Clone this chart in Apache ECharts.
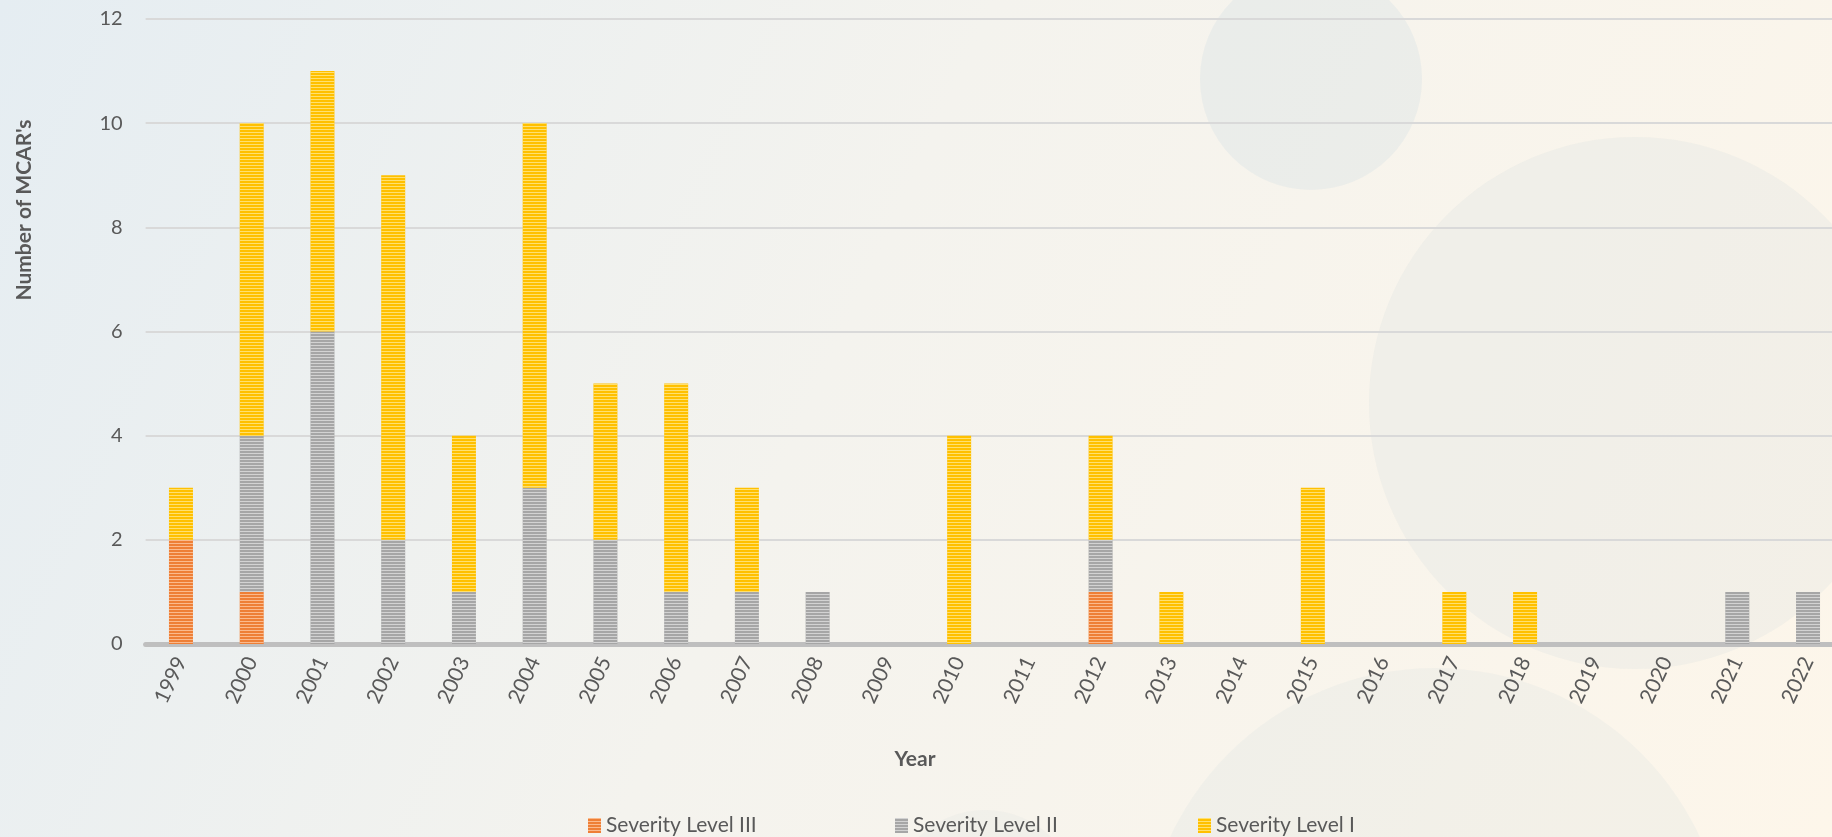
<!DOCTYPE html>
<html>
<head>
<meta charset="utf-8">
<script src="https://cdn.jsdelivr.net/npm/echarts@6/dist/echarts.min.js"></script>
<style>
html,body{margin:0;padding:0;width:1832px;height:837px;overflow:hidden;}
#chart{width:1832px;height:837px;}
</style>
</head>
<body>
<div id="chart"></div>
<script>
const years = ['1999','2000','2001','2002','2003','2004','2005','2006','2007','2008','2009','2010','2011','2012','2013','2014','2015','2016','2017','2018','2019','2020','2021','2022'];
const severityIII = [2,1,0,0,0,0,0,0,0,0,0,0,0,1,0,0,0,0,0,0,0,0,0,0];
const severityII  = [0,3,6,2,1,3,2,1,1,1,0,0,0,1,0,0,0,0,0,0,0,0,1,1];
const severityI   = [1,6,5,7,3,7,3,4,2,0,0,4,0,2,1,0,3,0,1,1,0,0,0,0];
const seriesNames = ['Severity Level III','Severity Level II','Severity Level I'];
const yTicks = {min:0, max:12, interval:2};

const FONT = 'Lato, "Open Sans", sans-serif';
const TXT = '#595959';

function stripe(light){
  return {symbol:'rect', symbolSize:1, dashArrayX:[1,0], dashArrayY:[1,2], color:light, rotation:0};
}

const chart = echarts.init(document.getElementById('chart'), null, {renderer:'canvas'});
const legendText = {fontFamily:FONT, fontSize:21, color:TXT};
const option = {
  animation:false,
  graphic:[
    {type:'rect', z:-100, silent:true, shape:{x:0,y:0,width:1832,height:837},
     style:{fill:new echarts.graphic.LinearGradient(0,0,1,1,[
       {offset:0,color:'#E5EDF2'},{offset:0.45,color:'#F4F3EE'},{offset:1,color:'#FDF6EA'}])}},
    {type:'circle', z:-99, silent:true, shape:{cx:1311,cy:79,r:111}, style:{fill:'rgba(205,220,228,0.28)'}},
    {type:'circle', z:-99, silent:true, shape:{cx:1635,cy:403,r:266}, style:{fill:'rgba(215,222,222,0.25)'}},
    {type:'circle', z:-99, silent:true, shape:{cx:1435,cy:960,r:292}, style:{fill:'rgba(215,222,222,0.22)'}},
    {type:'circle', z:-99, silent:true, shape:{cx:985,cy:905,r:95}, style:{fill:'rgba(215,222,222,0.18)'}},
    {type:'text', z:10, x:24, y:210, rotation:Math.PI/2,
     style:{text:"Number of MCAR's", font:'bold 21px '+FONT, fill:TXT, align:'center', verticalAlign:'middle'}},
    {type:'text', z:10, x:915, y:759,
     style:{text:'Year', font:'bold 21px '+FONT, fill:TXT, align:'center', verticalAlign:'middle'}}
  ],
  legend:[
    {data:[seriesNames[0]], left:583, top:810, icon:'rect', itemWidth:13, itemHeight:15, textStyle:legendText},
    {data:[seriesNames[1]], left:890, top:810, icon:'rect', itemWidth:13, itemHeight:15, textStyle:legendText},
    {data:[seriesNames[2]], left:1193, top:810, icon:'rect', itemWidth:13, itemHeight:15, textStyle:legendText}
  ],
  grid:{left:145.6, width:1697.8, top:19, bottom:193, containLabel:false, outerBoundsMode:'none'},
  xAxis:{
    type:'category', data:years,
    axisLine:{show:true, lineStyle:{color:'#BFBFBF', width:5}},
    axisTick:{show:false},
    axisLabel:{rotate:65, margin:14, fontFamily:FONT, fontSize:21, color:TXT, interval:0}
  },
  yAxis:{
    type:'value', min:yTicks.min, max:yTicks.max, interval:yTicks.interval,
    axisLine:{show:false}, axisTick:{show:false},
    axisLabel:{margin:23, fontFamily:FONT, fontSize:20, color:TXT},
    splitLine:{lineStyle:{color:'#D9D9D9', width:2}}
  },
  series:[
    {name:seriesNames[0], type:'bar', stack:'s', data:severityIII, barWidth:24,
     itemStyle:{color:'#EE7F36', decal:stripe('rgba(255,205,170,0.75)')}},
    {name:seriesNames[1], type:'bar', stack:'s', data:severityII, barWidth:24,
     itemStyle:{color:'#A6A6A6', decal:stripe('rgba(225,225,225,0.75)')}},
    {name:seriesNames[2], type:'bar', stack:'s', data:severityI, barWidth:24,
     itemStyle:{color:'#FFC000', decal:stripe('rgba(255,232,140,0.8)')}}
  ]
};
chart.setOption(option);
</script>
</body>
</html>
